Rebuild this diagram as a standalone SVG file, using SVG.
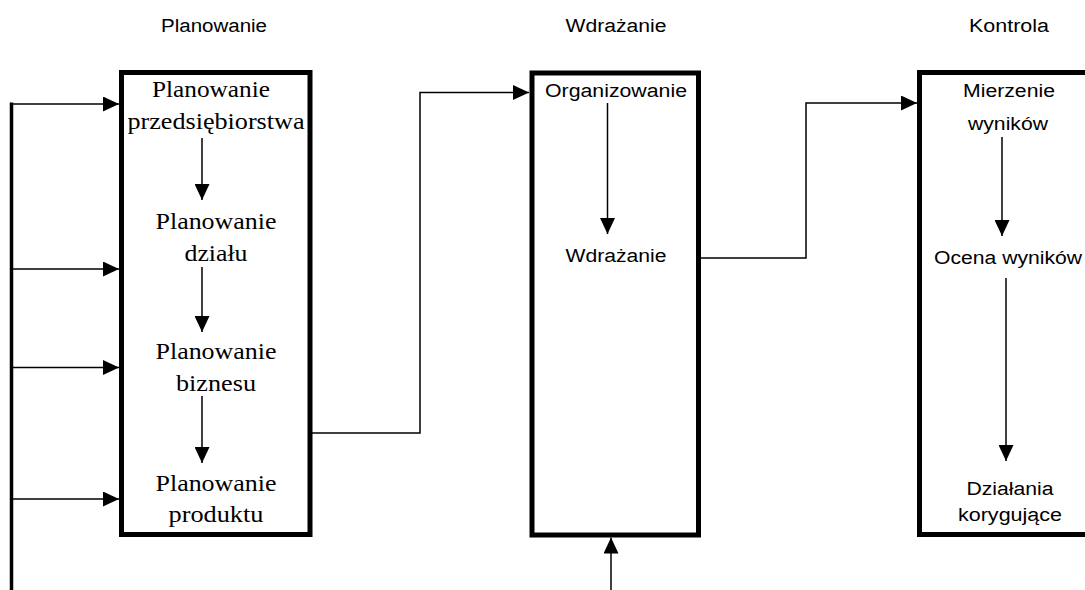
<svg xmlns="http://www.w3.org/2000/svg" width="1085" height="590" viewBox="0 0 1085 590">
  <style>
    .box { fill: #ffffff; stroke: #000000; stroke-width: 5; }
    .line { fill: none; stroke: #000000; stroke-width: 1.5; }
    .bus { fill: none; stroke: #000000; stroke-width: 3.5; }
    .sans { font-family: "Liberation Sans", Arial, sans-serif; font-size: 18px; fill: #000000; text-anchor: middle; }
    .serif { font-family: "Liberation Serif", "Times New Roman", serif; font-size: 23px; fill: #000000; text-anchor: middle; }
  </style>
  <defs>
    <marker id="ah" markerUnits="userSpaceOnUse" markerWidth="16" markerHeight="15" refX="16" refY="7.5" orient="auto">
      <path d="M0,0 L16,7.5 L0,15 z" fill="#000000"/>
    </marker>
  </defs>
  <rect width="1085" height="590" fill="#ffffff"/>

  <g id="headings">
    <text class="sans" x="214" y="32" textLength="106" lengthAdjust="spacingAndGlyphs">Planowanie</text>
    <text class="sans" x="616" y="32" textLength="101" lengthAdjust="spacingAndGlyphs">Wdrażanie</text>
    <text class="sans" x="1009" y="32" textLength="80" lengthAdjust="spacingAndGlyphs">Kontrola</text>
  </g>

  <g id="node-planowanie">
    <rect class="box" x="121.5" y="72.5" width="188.5" height="462"/>
    <text class="serif" x="211" y="97" textLength="118" lengthAdjust="spacingAndGlyphs">Planowanie</text>
    <text class="serif" x="216" y="129" textLength="177" lengthAdjust="spacingAndGlyphs">przedsiębiorstwa</text>
    <text class="serif" x="216" y="229" textLength="121" lengthAdjust="spacingAndGlyphs">Planowanie</text>
    <text class="serif" x="216" y="261" textLength="63" lengthAdjust="spacingAndGlyphs">działu</text>
    <text class="serif" x="216" y="359" textLength="121" lengthAdjust="spacingAndGlyphs">Planowanie</text>
    <text class="serif" x="216" y="391" textLength="80" lengthAdjust="spacingAndGlyphs">biznesu</text>
    <text class="serif" x="216" y="491" textLength="121" lengthAdjust="spacingAndGlyphs">Planowanie</text>
    <text class="serif" x="216" y="522" textLength="95" lengthAdjust="spacingAndGlyphs">produktu</text>
  </g>

  <g id="node-wdrazanie">
    <rect class="box" x="532" y="73" width="166.5" height="462"/>
    <text class="sans" x="616" y="97" textLength="142" lengthAdjust="spacingAndGlyphs">Organizowanie</text>
    <text class="sans" x="616" y="262" textLength="101" lengthAdjust="spacingAndGlyphs">Wdrażanie</text>
  </g>

  <g id="node-kontrola">
    <rect class="box" x="919.5" y="72.5" width="200" height="462"/>
    <text class="sans" x="1009" y="97" textLength="92" lengthAdjust="spacingAndGlyphs">Mierzenie</text>
    <text class="sans" x="1008" y="130" textLength="80" lengthAdjust="spacingAndGlyphs">wyników</text>
    <text class="sans" x="1008" y="264" textLength="148" lengthAdjust="spacingAndGlyphs">Ocena wyników</text>
    <text class="sans" x="1010" y="495" textLength="87" lengthAdjust="spacingAndGlyphs">Działania</text>
    <text class="sans" x="1010" y="521" textLength="104" lengthAdjust="spacingAndGlyphs">korygujące</text>
  </g>

  <g id="connectors">
    <!-- feedback bus on the left -->
    <path class="bus" d="M11.5,102.5 L11.5,590"/>
    <path class="line" d="M11.5,104 L119,104" marker-end="url(#ah)"/>
    <path class="line" d="M11.5,269 L119,269" marker-end="url(#ah)"/>
    <path class="line" d="M11.5,367.5 L119,367.5" marker-end="url(#ah)"/>
    <path class="line" d="M11.5,499 L119,499" marker-end="url(#ah)"/>
    <!-- inner planning arrows -->
    <path class="line" d="M202,138 L202,200" marker-end="url(#ah)"/>
    <path class="line" d="M202,267 L202,332" marker-end="url(#ah)"/>
    <path class="line" d="M202,396 L202,463" marker-end="url(#ah)"/>
    <!-- planning to implementation -->
    <path class="line" d="M312,433 L420,433 L420,92.5 L529,92.5" marker-end="url(#ah)"/>
    <!-- inner implementation arrow -->
    <path class="line" d="M607.5,103 L607.5,234" marker-end="url(#ah)"/>
    <!-- implementation to control -->
    <path class="line" d="M701,258 L806,258 L806,103 L917,103" marker-end="url(#ah)"/>
    <!-- inner control arrows -->
    <path class="line" d="M1002,137 L1002,236" marker-end="url(#ah)"/>
    <path class="line" d="M1006,278 L1006,461" marker-end="url(#ah)"/>
    <!-- bottom input arrow -->
    <path class="line" d="M611,590 L611,537.5" marker-end="url(#ah)"/>
  </g>
</svg>
